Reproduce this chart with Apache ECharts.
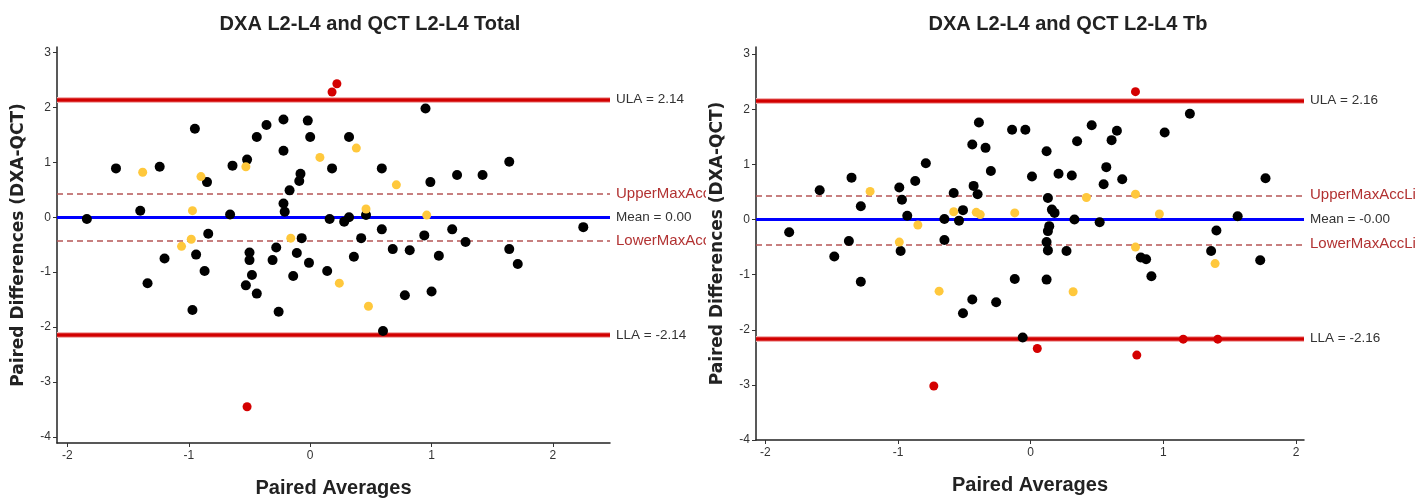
<!DOCTYPE html>
<html>
<head>
<meta charset="utf-8">
<title>Bland-Altman: DXA vs QCT</title>
<script src="https://cdn.jsdelivr.net/npm/echarts@6/dist/echarts.min.js"></script>
<style>
  html, body { margin: 0; padding: 0; background: #fff; }
  #wrap { position: relative; width: 1416px; height: 499px; }
  .panel { position: absolute; top: 0; height: 499px; }
  #total { left: 0; width: 706px; }
  #tb { left: 707px; width: 709px; }
</style>
</head>
<body>
<div id="wrap">
  <div id="total" class="panel"></div>
  <div id="tb" class="panel"></div>
</div>
<script>
// ---- data (x = paired average, y = paired difference) ----
var xTicks = [-2, -1, 0, 1, 2];
var yTicks = [3, 2, 1, 0, -1, -2, -3, -4];

var totalBlack = [
  [-1.84, -0.03], [-1.60, 0.89], [-1.24, 0.92], [-1.40, 0.12], [-1.34, -1.20],
  [-1.20, -0.75], [-0.95, 1.61], [-0.85, 0.64], [-0.84, -0.30], [-0.94, -0.68],
  [-0.87, -0.98], [-0.97, -1.69], [-0.64, 0.94], [-0.66, 0.05], [-0.52, 1.05],
  [-0.50, -0.64], [-0.50, -0.78], [-0.48, -1.05], [-0.53, -1.24], [-0.44, -1.39],
  [-0.44, 1.46], [-0.36, 1.68], [-0.28, -0.55], [-0.31, -0.78], [-0.26, -1.72],
  [-0.22, 1.78], [-0.22, 1.21], [-0.17, 0.49], [-0.22, 0.25], [-0.21, 0.10],
  [-0.08, 0.79], [-0.09, 0.66], [-0.07, -0.38], [-0.11, -0.65], [-0.14, -1.07],
  [-0.02, 1.76], [0.00, 1.46], [-0.01, -0.83], [0.18, 0.89], [0.16, -0.03],
  [0.14, -0.98], [0.28, -0.08], [0.32, 0.00], [0.32, 1.46], [0.36, -0.72],
  [0.42, -0.38], [0.46, 0.04], [0.59, 0.89], [0.59, -0.22], [0.68, -0.58],
  [0.60, -2.07], [0.78, -1.42], [0.82, -0.60], [0.95, 1.98], [0.99, 0.64],
  [0.94, -0.33], [1.06, -0.70], [1.00, -1.35], [1.21, 0.77], [1.17, -0.22],
  [1.28, -0.45], [1.42, 0.77], [1.64, 1.01], [1.64, -0.58], [1.71, -0.85],
  [2.25, -0.18]
];
var totalYellow = [
  [-1.38, 0.82], [-0.90, 0.74], [-0.97, 0.12], [-0.98, -0.40], [-1.06, -0.53],
  [-0.53, 0.92], [-0.16, -0.38], [0.08, 1.09], [0.38, 1.26], [0.71, 0.59],
  [0.46, 0.15], [0.96, 0.04], [0.24, -1.20], [0.48, -1.62]
];
var totalRed = [[0.18, 2.28], [0.22, 2.43], [-0.52, -3.45]];
var totalLines = [2.14, 0.43, 0.00, -0.43, -2.14];
var totalLineLabels = ['ULA = 2.14', 'UpperMaxAccLimit', 'Mean = 0.00', 'LowerMaxAccLimit', 'LLA = -2.14'];

var tbBlack = [
  [-1.82, -0.23], [-1.59, 0.53], [-1.48, -0.67], [-1.35, 0.76], [-1.28, 0.24],
  [-1.37, -0.39], [-1.28, -1.13], [-0.99, 0.58], [-0.97, 0.36], [-0.93, 0.07],
  [-0.98, -0.57], [-0.87, 0.70], [-0.79, 1.02], [-0.65, 0.01], [-0.65, -0.37],
  [-0.58, 0.48], [-0.54, -0.02], [-0.51, 0.17], [-0.51, -1.70], [-0.44, 1.36],
  [-0.43, 0.61], [-0.40, 0.46], [-0.39, 1.76], [-0.34, 1.30], [-0.30, 0.88],
  [-0.44, -1.45], [-0.26, -1.50], [-0.14, 1.63], [-0.04, 1.63], [-0.12, -1.08],
  [0.01, 0.78], [-0.06, -2.14], [0.12, 1.24], [0.13, 0.39], [0.16, 0.18],
  [0.18, 0.12], [0.14, -0.12], [0.13, -0.21], [0.12, -0.41], [0.13, -0.56],
  [0.12, -1.09], [0.21, 0.83], [0.27, -0.57], [0.31, 0.80], [0.33, 0.00],
  [0.35, 1.42], [0.46, 1.71], [0.52, -0.05], [0.55, 0.64], [0.57, 0.95],
  [0.61, 1.44], [0.65, 1.61], [0.69, 0.73], [0.83, -0.69], [0.87, -0.72],
  [0.91, -1.03], [1.01, 1.58], [1.20, 1.92], [1.36, -0.57], [1.40, -0.20],
  [1.56, 0.06], [1.73, -0.74], [1.77, 0.75]
];
var tbYellow = [
  [-1.21, 0.51], [-0.99, -0.41], [-0.85, -0.10], [-0.69, -1.30], [-0.58, 0.14],
  [-0.41, 0.13], [-0.38, 0.09], [-0.12, 0.12], [0.42, 0.40], [0.32, -1.31],
  [0.79, 0.46], [0.79, -0.50], [0.97, 0.10], [1.39, -0.80]
];
var tbRed = [[0.79, 2.32], [0.05, -2.34], [-0.73, -3.02], [0.80, -2.46], [1.15, -2.17], [1.41, -2.17]];
var tbLines = [2.16, 0.44, -0.00, -0.45, -2.16];
var tbLineLabels = ['ULA = 2.16', 'UpperMaxAccLimit', 'Mean = -0.00', 'LowerMaxAccLimit', 'LLA = -2.16'];

var LABEL_FONT = "'Liberation Sans Narrow', 'Liberation Sans', Arial, sans-serif";
var BOLD_FONT = "'Liberation Sans', Arial, sans-serif";

// one reference-line entry per limit; red limits get a soft pink halo underneath
function limitLines(values, labels) {
  var out = [];
  values.forEach(function (v, i) {
    var isLimit = i === 0 || i === 4, isMean = i === 2;
    var solid = isLimit || isMean;
    if (isLimit) {
      out.push({ yAxis: v, label: { show: false }, lineStyle: { color: '#f2b3b3', width: 6, type: 'solid' } });
    }
    out.push({
      yAxis: v,
      label: {
        show: true, position: 'end', distance: 6, formatter: labels[i],
        color: solid ? '#333' : '#b23232',
        fontSize: solid ? 13.5 : 15, fontFamily: LABEL_FONT
      },
      lineStyle: isLimit ? { color: '#d20000', width: 3.5, type: 'solid' }
        : isMean ? { color: '#0000ff', width: 3, type: 'solid' }
        : { color: '#b55555', width: 1.5, type: [6, 4] }
    });
  });
  return out;
}

function dots(name, data, color, size, z) {
  return { name: name, type: 'scatter', data: data, symbolSize: size, z: z,
    itemStyle: { color: color, opacity: 1 }, silent: true };
}

function makeOption(cfg) {
  return {
    animation: false,
    title: {
      text: cfg.title, left: cfg.titleX, top: 9, textAlign: 'center',
      textStyle: { fontSize: 20, fontWeight: 'bold', color: '#222', fontFamily: BOLD_FONT }
    },
    grid: { left: cfg.gridLeft, top: 47, width: cfg.gridWidth, height: cfg.gridHeight,
      containLabel: false, outerBoundsMode: 'none' },
    xAxis: {
      type: 'value', min: cfg.xMin, max: cfg.xMax,
      name: 'Paired Averages', nameLocation: 'middle', nameGap: 35,
      nameTextStyle: { fontSize: 20, fontWeight: 'bold', color: '#222', fontFamily: BOLD_FONT },
      axisLine: { onZero: false, lineStyle: { color: '#222', width: 1.5 } },
      axisTick: { show: true, length: 4, customValues: xTicks, lineStyle: { color: '#333' } },
      axisLabel: { customValues: xTicks, color: '#333', fontSize: 12, margin: 7, fontFamily: LABEL_FONT },
      splitLine: { show: false }
    },
    yAxis: {
      type: 'value', min: cfg.yMin, max: cfg.yMax,
      name: 'Paired Differences (DXA-QCT)', nameLocation: 'middle', nameGap: 30, nameRotate: 90,
      nameTextStyle: { fontSize: 17, fontWeight: 'bold', color: '#222', fontFamily: "'DejaVu Sans', Verdana, sans-serif" },
      axisLine: { onZero: false, lineStyle: { color: '#222', width: 1.5 } },
      axisTick: { show: true, length: 4, customValues: yTicks, lineStyle: { color: '#333' } },
      axisLabel: { customValues: yTicks, color: '#333', fontSize: 12, margin: 6, fontFamily: LABEL_FONT },
      splitLine: { show: false }
    },
    series: [
      { type: 'scatter', data: [], z: 1, silent: true,
        markLine: { silent: true, z: 1, symbol: 'none', animation: false, data: limitLines(cfg.lines, cfg.lineLabels) } },
      dots('Within limits', cfg.black, '#000000', 10, 10),
      dots('Outside max acceptable', cfg.yellow, '#ffc83c', 9, 11),
      dots('Outside limits', cfg.red, '#d40000', 9, 12)
    ]
  };
}

var left = echarts.init(document.getElementById('total'));
left.setOption(makeOption({
  title: 'DXA L2-L4 and QCT L2-L4 Total', titleX: 365,
  gridLeft: 57, gridWidth: 553, gridHeight: 396,
  xMin: -2.086, xMax: 2.47, yMin: -4.11, yMax: 3.10,
  black: totalBlack, yellow: totalYellow, red: totalRed,
  lines: totalLines, lineLabels: totalLineLabels
}));

var right = echarts.init(document.getElementById('tb'));
right.setOption(makeOption({
  title: 'DXA L2-L4 and QCT L2-L4 Tb', titleX: 356,
  gridLeft: 49, gridWidth: 548, gridHeight: 393,
  xMin: -2.07, xMax: 2.06, yMin: -4.0, yMax: 3.13,
  black: tbBlack, yellow: tbYellow, red: tbRed,
  lines: tbLines, lineLabels: tbLineLabels
}));
</script>
</body>
</html>
